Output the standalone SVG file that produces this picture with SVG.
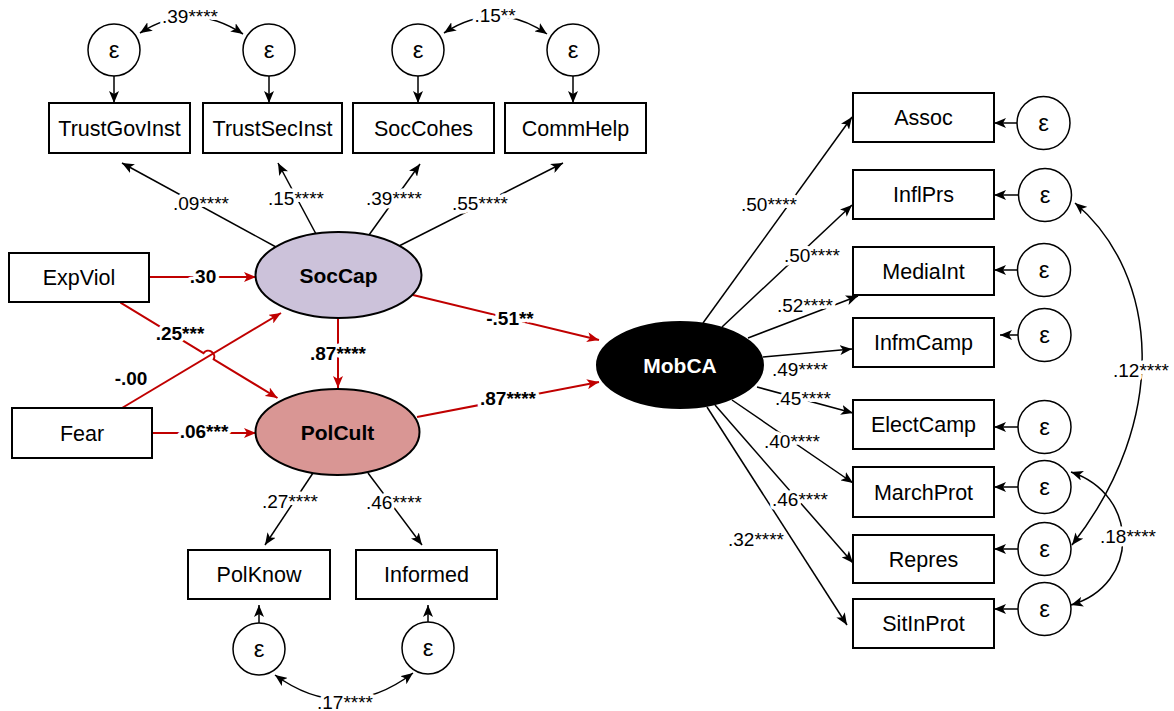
<svg xmlns="http://www.w3.org/2000/svg" width="1174" height="711" viewBox="0 0 1174 711">
  <style>
    text { font-family: "Liberation Sans", Arial, sans-serif; fill: #000; }
    .box { fill: #fff; stroke: #000; stroke-width: 2; }
    .err { fill: #fff; stroke: #000; stroke-width: 1.5; }
    .lat { stroke: #000; stroke-width: 2; }
    .name { font-size: 21.5px; text-anchor: middle; }
    .eps { font-size: 24px; text-anchor: middle; }
    .latname { font-size: 21px; font-weight: bold; text-anchor: middle; }
    .edge { fill: none; stroke: #000; stroke-width: 1.5; marker-end: url(#ah); }
    .cov { fill: none; stroke: #000; stroke-width: 1.5; marker-start: url(#ah); marker-end: url(#ah); }
    .path { fill: none; stroke: #c00000; stroke-width: 2; marker-end: url(#ahr); }
    .lbl { font-size: 19px; text-anchor: middle; paint-order: stroke; stroke: #fff; stroke-width: 7px; stroke-linejoin: round; }
    .blbl { font-size: 19px; font-weight: bold; text-anchor: middle; paint-order: stroke; stroke: #fff; stroke-width: 7px; stroke-linejoin: round; }
  </style>
  <defs>
    <marker id="ah" viewBox="0 0 12 10" refX="12" refY="5" markerWidth="12" markerHeight="10" markerUnits="userSpaceOnUse" orient="auto-start-reverse">
      <path d="M0,0 L12,5 L0,10 L3,5 z" fill="#000"/>
    </marker>
    <marker id="ahr" viewBox="0 0 12 10" refX="12" refY="5" markerWidth="12" markerHeight="10" markerUnits="userSpaceOnUse" orient="auto">
      <path d="M0,0 L12,5 L0,10 L3,5 z" fill="#c00000"/>
    </marker>
  </defs>

  <rect width="1174" height="711" fill="#fff"/>

  <!-- connectors -->
  <g id="connectors">
    <!-- error terms to SocCap indicators -->
    <path class="edge" d="M114,76 L114,103"/>
    <path class="edge" d="M269,76 L269,103"/>
    <path class="edge" d="M418,76 L418,103"/>
    <path class="edge" d="M573,76 L573,103"/>
    <path class="cov" d="M140,33 Q191,0 243,34"/>
    <path class="cov" d="M444,33 Q496,-1 547,34"/>

    <!-- SocCap loadings -->
    <path class="edge" d="M276,247 L122,163"/>
    <path class="edge" d="M316,234 L278,163"/>
    <path class="edge" d="M369,235 L420,164"/>
    <path class="edge" d="M399,246 L563,163"/>

    <!-- PolCult loadings -->
    <path class="edge" d="M313,473 L265,545"/>
    <path class="edge" d="M368,473 L422,545"/>
    <path class="edge" d="M259,623 L259,605"/>
    <path class="edge" d="M428,622 L428,605"/>
    <path class="cov" d="M275,675 Q344,725 413,673"/>

    <!-- MobCA loadings -->
    <path class="edge" d="M703,323 L852,117"/>
    <path class="edge" d="M722,327 L852,205"/>
    <path class="edge" d="M748,338 L858,296"/>
    <path class="edge" d="M763,357 L852,349"/>
    <path class="edge" d="M757,387 L853,413"/>
    <path class="edge" d="M732,400 L853,483"/>
    <path class="edge" d="M715,405 L853,563"/>
    <path class="edge" d="M707,407 L847,625"/>

    <!-- error terms to MobCA indicators -->
    <path class="edge" d="M1017,123 L994,123"/>
    <path class="edge" d="M1018,195 L994,195"/>
    <path class="edge" d="M1017,270 L994,270"/>
    <path class="edge" d="M1018,335 L1000,335"/>
    <path class="edge" d="M1018,427 L994,427"/>
    <path class="edge" d="M1018,487 L994,487"/>
    <path class="edge" d="M1018,549 L994,549"/>
    <path class="edge" d="M1018,609 L994,609"/>
    <path class="cov" d="M1075,203 C1160,275 1170,420 1072,545"/>
    <path class="cov" d="M1071,472 C1140,495 1140,585 1071,605"/>

    <!-- structural paths -->
    <path class="path" d="M150,277 L256,277"/>
    <path class="path" d="M152,433 L256,433"/>
    <path class="path" d="M122,408 L281,313"/>
    <path class="path" d="M120.5,302.7 L203.5,353.1 A6,6 0 0 1 213.7,359.3 L277.5,398"/>
    <path class="path" d="M338,318 L338,388"/>
    <path class="path" d="M413,295 L599,340"/>
    <path class="path" d="M417,417 L599,382"/>

    <!-- coefficients -->
    <text class="lbl" x="190" y="23">.39****</text>
    <text class="lbl" x="495" y="22">.15**</text>
    <text class="lbl" x="201" y="210">.09****</text>
    <text class="lbl" x="296" y="205">.15****</text>
    <text class="lbl" x="394" y="205">.39****</text>
    <text class="lbl" x="480" y="210">.55****</text>
    <text class="lbl" x="290" y="508">.27****</text>
    <text class="lbl" x="394" y="509">.46****</text>
    <text class="lbl" x="345" y="709">.17****</text>
    <text class="lbl" x="769" y="211">.50****</text>
    <text class="lbl" x="812" y="262">.50****</text>
    <text class="lbl" x="805" y="312">.52****</text>
    <text class="lbl" x="800" y="376">.49****</text>
    <text class="lbl" x="803" y="405">.45****</text>
    <text class="lbl" x="792" y="448">.40****</text>
    <text class="lbl" x="800" y="506">.46****</text>
    <text class="lbl" x="756" y="546">.32****</text>
    <text class="lbl" x="1141" y="377">.12****</text>
    <text class="lbl" x="1128" y="543">.18****</text>
    <text class="blbl" x="203" y="283">.30</text>
    <text class="blbl" x="204" y="438">.06***</text>
    <text class="blbl" x="131" y="385">-.00</text>
    <text class="blbl" x="180" y="340">.25***</text>
    <text class="blbl" x="338" y="360">.87****</text>
    <text class="blbl" x="510" y="325">-.51**</text>
    <text class="blbl" x="508" y="405">.87****</text>
  </g>

  <!-- latent variables -->
  <g id="SocCap">
    <ellipse class="lat" cx="338.5" cy="275" rx="83" ry="43" fill="#ccc2da"/>
    <text class="latname" x="338.5" y="282.5">SocCap</text>
  </g>
  <g id="PolCult">
    <ellipse class="lat" cx="337.5" cy="432" rx="82" ry="43" fill="#d99694"/>
    <text class="latname" x="337.5" y="439.5">PolCult</text>
  </g>
  <g id="MobCA">
    <ellipse class="lat" cx="680" cy="365" rx="83" ry="43" fill="#000"/>
    <text class="latname" x="680" y="372.5" style="fill:#fff">MobCA</text>
  </g>

  <!-- observed predictors -->
  <g id="ExpViol">
    <rect class="box" x="9" y="253" width="140" height="49"/>
    <text class="name" x="79" y="285">ExpViol</text>
  </g>
  <g id="Fear">
    <rect class="box" x="12" y="408" width="140" height="50"/>
    <text class="name" x="82" y="440.5">Fear</text>
  </g>

  <!-- SocCap indicators -->
  <g id="TrustGovInst">
    <rect class="box" x="49" y="103" width="141" height="50"/>
    <text class="name" x="119.5" y="135.5">TrustGovInst</text>
  </g>
  <g id="TrustSecInst">
    <rect class="box" x="203" y="103" width="139" height="50"/>
    <text class="name" x="272.5" y="135.5">TrustSecInst</text>
  </g>
  <g id="SocCohes">
    <rect class="box" x="353" y="103" width="141" height="50"/>
    <text class="name" x="423.5" y="135.5">SocCohes</text>
  </g>
  <g id="CommHelp">
    <rect class="box" x="505" y="103" width="141" height="50"/>
    <text class="name" x="575.5" y="135.5">CommHelp</text>
  </g>

  <!-- PolCult indicators -->
  <g id="PolKnow">
    <rect class="box" x="188" y="550" width="142" height="49"/>
    <text class="name" x="259" y="582">PolKnow</text>
  </g>
  <g id="Informed">
    <rect class="box" x="356" y="550" width="141" height="49"/>
    <text class="name" x="426.5" y="582">Informed</text>
  </g>

  <!-- MobCA indicators -->
  <g id="Assoc">
    <rect class="box" x="853" y="93" width="141" height="49"/>
    <text class="name" x="923.5" y="125">Assoc</text>
  </g>
  <g id="InflPrs">
    <rect class="box" x="853" y="170" width="141" height="49"/>
    <text class="name" x="923.5" y="202">InflPrs</text>
  </g>
  <g id="MediaInt">
    <rect class="box" x="853" y="247" width="141" height="48"/>
    <text class="name" x="923.5" y="278.5">MediaInt</text>
  </g>
  <g id="InfmCamp">
    <rect class="box" x="853" y="318" width="141" height="49"/>
    <text class="name" x="923.5" y="350">InfmCamp</text>
  </g>
  <g id="ElectCamp">
    <rect class="box" x="853" y="400" width="141" height="49"/>
    <text class="name" x="923.5" y="432">ElectCamp</text>
  </g>
  <g id="MarchProt">
    <rect class="box" x="853" y="467" width="141" height="50"/>
    <text class="name" x="923.5" y="499.5">MarchProt</text>
  </g>
  <g id="Repres">
    <rect class="box" x="853" y="535" width="141" height="48"/>
    <text class="name" x="923.5" y="566.5">Repres</text>
  </g>
  <g id="SitInProt">
    <rect class="box" x="853" y="599" width="141" height="49"/>
    <text class="name" x="923.5" y="631">SitInProt</text>
  </g>

  <!-- error terms -->
  <g id="e-TrustGovInst"><circle class="err" cx="114" cy="50" r="26"/><text class="eps" x="114" y="58">ε</text></g>
  <g id="e-TrustSecInst"><circle class="err" cx="269" cy="50" r="26"/><text class="eps" x="269" y="58">ε</text></g>
  <g id="e-SocCohes"><circle class="err" cx="418" cy="50" r="26"/><text class="eps" x="418" y="58">ε</text></g>
  <g id="e-CommHelp"><circle class="err" cx="573" cy="50" r="26"/><text class="eps" x="573" y="58">ε</text></g>
  <g id="e-PolKnow"><circle class="err" cx="259" cy="649" r="26"/><text class="eps" x="259" y="657">ε</text></g>
  <g id="e-Informed"><circle class="err" cx="428" cy="648" r="26"/><text class="eps" x="428" y="656">ε</text></g>
  <g id="e-Assoc"><circle class="err" cx="1043.5" cy="123" r="26.5"/><text class="eps" x="1043.5" y="131">ε</text></g>
  <g id="e-InflPrs"><circle class="err" cx="1045" cy="195" r="26.5"/><text class="eps" x="1045" y="203">ε</text></g>
  <g id="e-MediaInt"><circle class="err" cx="1044" cy="270" r="26.5"/><text class="eps" x="1044" y="278">ε</text></g>
  <g id="e-InfmCamp"><circle class="err" cx="1044.5" cy="335" r="26.5"/><text class="eps" x="1044.5" y="343">ε</text></g>
  <g id="e-ElectCamp"><circle class="err" cx="1044.5" cy="427" r="26.5"/><text class="eps" x="1044.5" y="435">ε</text></g>
  <g id="e-MarchProt"><circle class="err" cx="1044.5" cy="487" r="26.5"/><text class="eps" x="1044.5" y="495">ε</text></g>
  <g id="e-Repres"><circle class="err" cx="1044.5" cy="549" r="26.5"/><text class="eps" x="1044.5" y="557">ε</text></g>
  <g id="e-SitInProt"><circle class="err" cx="1044.5" cy="609" r="26.5"/><text class="eps" x="1044.5" y="617">ε</text></g>
</svg>
